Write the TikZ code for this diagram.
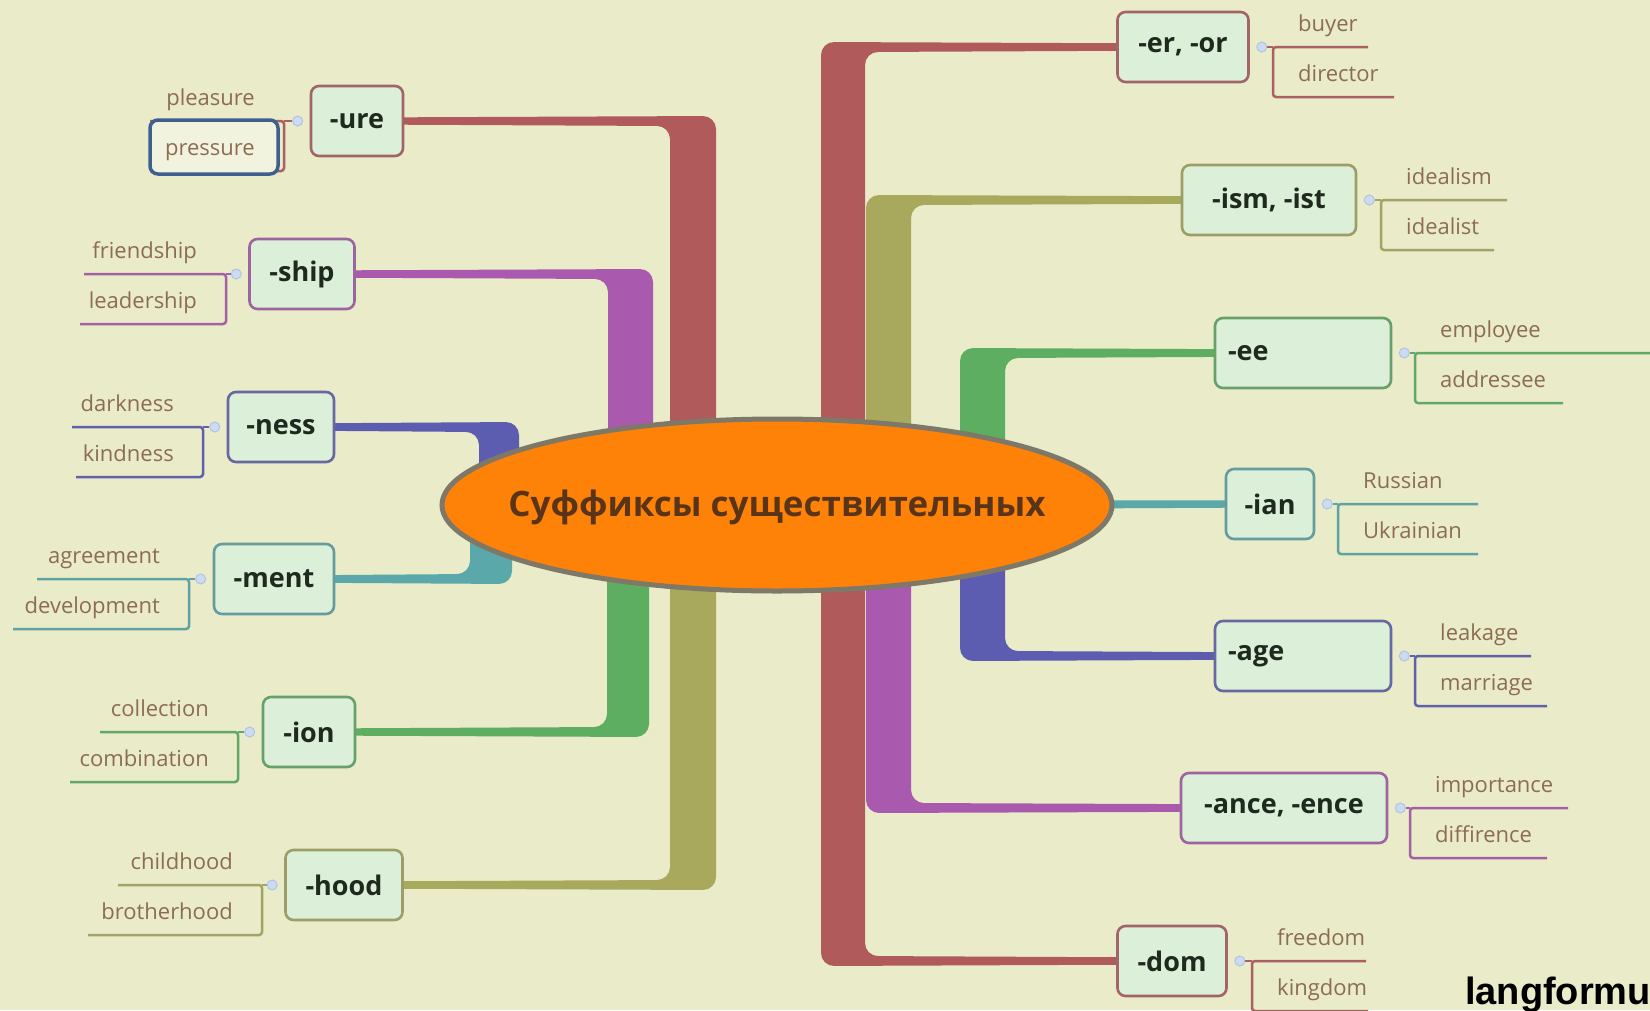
\documentclass[tikz,border=0pt]{standalone}
\usepackage{fontspec}
\setmainfont{Open Sans}
\newfontfamily\wmfont{Liberation Sans}
\usetikzlibrary{shapes.geometric,calc}
\pgfdeclarelayer{background}
\pgfsetlayers{background,main}

\definecolor{bgc}{HTML}{E9EBC9}
\definecolor{cRed}{HTML}{B05A5C}
\definecolor{cPur}{HTML}{A95AAE}
\definecolor{cBlu}{HTML}{5C5CB0}
\definecolor{cTea}{HTML}{5BA8AA}
\definecolor{cGrn}{HTML}{5EAE62}
\definecolor{cOli}{HTML}{A9A95E}
\definecolor{boxfill}{HTML}{DCEFD9}
\definecolor{boxtext}{HTML}{1E2A1E}
\definecolor{wordc}{HTML}{8C6D52}
\definecolor{knobf}{HTML}{CCDBF0}
\definecolor{knobd}{HTML}{AFC4E6}
\definecolor{hubfill}{HTML}{FF8208}
\definecolor{hubdraw}{HTML}{7D7868}
\definecolor{hubtext}{HTML}{5A3418}
\definecolor{selc}{HTML}{3F5F8F}

\tikzset{
  sbox/.style={draw=#1!70!gray, fill=boxfill, rounded corners=8pt, line width=2.6pt,
    minimum height=70pt, font=\bfseries\fontsize{27}{30}\selectfont, text=boxtext},
  word/.style={font=\fontsize{22}{24}\selectfont, text=wordc, inner sep=0pt},
  knob/.style={circle, fill=knobf, draw=knobd, line width=1pt, minimum size=10pt, inner sep=0pt},
  brk/.style={#1!85!gray, line width=2.5pt, rounded corners=3pt},
}

% branch: color, node, y0, x inner, x outer, y end, sign
\newcommand\branchshape[7]{%
  \fill[#1, rounded corners=13pt] ($(#2.center)+(0,{-#7*3.5})$) -- (#5,{#3-#7*5}) -- (#5,#6)
    -- (#4,#6) -- (#4,{#3+#7*5}) -- ($(#2.center)+(0,{#7*3.5})$) -- cycle;}

% left sub items: name, color, y0, V, x1, x2, word1, word2
\newcommand\lsub[8]{%
  \node[knob] (#1k) at ($(#1.west)+(-12,0)$) {};
  \draw[brk=#2] (#1k.west) -- (#4,#3);
  \draw[brk=#2] (#5,#3) -- (#4,#3) -- (#4,{#3+50}) -- (#6,{#3+50});
  \node[word, anchor=base east] (#1a) at ({#4-29},{#3-16}) {#7};
  \node[word, anchor=base east] (#1b) at ({#4-29},{#3+34}) {#8};}
% right sub items
\newcommand\rsub[8]{%
  \node[knob] (#1k) at ($(#1.east)+(12,0)$) {};
  \draw[brk=#2] (#1k.east) -- (#4,#3);
  \draw[brk=#2] (#5,#3) -- (#4,#3) -- (#4,{#3+50}) -- (#6,{#3+50});
  \node[word, anchor=base west] (#1a) at ({#4+25},{#3-16}) {#7};
  \node[word, anchor=base west] (#1b) at ({#4+25},{#3+34}) {#8};}

\begin{document}
\begin{tikzpicture}[x=1pt,y=-1pt]
\useasboundingbox (0,0) rectangle (1650,1010);
\clip (0,0) rectangle (1650,1010);

% central
\node[ellipse, minimum width=670pt, minimum height=172pt, fill=hubfill, draw=hubdraw, line width=5pt, inner sep=0pt] (hub) at (777,505) {};
\node[font=\bfseries\fontsize{35}{38}\selectfont, text=hubtext] (hubt) at (777,507) {Суффиксы существительных};

% suffix boxes
\node[sbox=cRed, minimum width=92pt] (ure) at (357,121) {-ure};
\node[sbox=cPur, minimum width=105pt] (ship) at (302,274) {-ship};
\node[sbox=cBlu, minimum width=106pt] (ness) at (281,427) {-ness};
\node[sbox=cTea, minimum width=120pt] (ment) at (274,579) {-ment};
\node[sbox=cGrn, minimum width=92pt] (ion) at (309,732) {-ion};
\node[sbox=cOli, minimum width=117pt] (hood) at (344,885) {-hood};
\node[sbox=cRed, minimum width=131pt] (er) at (1183,47) {-er, -or};
\node[sbox=cOli, minimum width=174pt] (ism) at (1269,200) {-ism, -ist};
\node[sbox=cGrn, text width=150pt, align=left, inner xsep=13pt] (ee) at (1303,353) {-ee};
\node[sbox=cTea, minimum width=88pt] (ian) at (1270,504) {-ian};
\node[sbox=cBlu, text width=150pt, align=left, inner xsep=13pt] (age) at (1303,656) {-age};
\node[sbox=cPur, minimum width=206pt] (ance) at (1284,808) {-ance, -ence};
\node[sbox=cRed, minimum width=109pt] (dom) at (1172,961) {-dom};

\begin{pgfonlayer}{background}
\fill[bgc] (0,0) rectangle (1650,1010);
\branchshape{cRed}{ure}{121}{670}{716}{505}{1}
\branchshape{cPur}{ship}{274}{608}{653}{505}{1}
\branchshape{cBlu}{ness}{427}{479}{519}{505}{1}
\branchshape{cTea}{ment}{579}{470}{512}{505}{-1}
\branchshape{cGrn}{ion}{732}{607}{649}{505}{-1}
\branchshape{cOli}{hood}{885}{670}{716}{505}{-1}
\branchshape{cRed}{er}{47}{865}{821}{505}{1}
\branchshape{cOli}{ism}{200}{911}{866}{505}{1}
\branchshape{cGrn}{ee}{353}{1005}{960}{505}{1}
\branchshape{cBlu}{age}{656}{1005}{960}{505}{-1}
\branchshape{cPur}{ance}{808}{911}{866}{505}{-1}
\branchshape{cRed}{dom}{961}{865}{821}{505}{-1}
\fill[cTea] ($(hub.center)+(0,-5)$) -- ($(ian.center)+(0,-3.5)$) -- ($(ian.center)+(0,3.5)$) -- ($(hub.center)+(0,5)$) -- cycle;
\end{pgfonlayer}

% sub items
\lsub{ure}{cRed}{121}{284}{150}{150}{pleasure}{}
\lsub{ship}{cPur}{274}{226}{84}{80}{friendship}{leadership}
\lsub{ness}{cBlu}{427}{203}{72}{76}{darkness}{kindness}
\lsub{ment}{cTea}{579}{189}{37}{13}{agreement}{development}
\lsub{ion}{cGrn}{732}{238}{100}{70}{collection}{combination}
\lsub{hood}{cOli}{885}{262}{118}{88}{childhood}{brotherhood}
\rsub{er}{cRed}{47}{1273}{1368}{1394}{buyer}{director}
\rsub{ism}{cOli}{200}{1381}{1507}{1494}{idealism}{idealist}
\rsub{ee}{cGrn}{353}{1415}{1650}{1563}{employee}{addressee}
\rsub{ian}{cTea}{504}{1338}{1478}{1478}{Russian}{Ukrainian}
\rsub{age}{cBlu}{656}{1415}{1531}{1547}{leakage}{marriage}
\rsub{ance}{cPur}{808}{1410}{1568}{1547}{importance}{diffirence}
\rsub{dom}{cRed}{961}{1252}{1366}{1368}{freedom}{kingdom}

% selected item
\node[draw=selc, fill=bgc!60!white, line width=3.5pt, rounded corners=8pt, minimum width=128pt, minimum height=54pt, inner sep=0pt] (sel) at (214,147) {};
\node[word, anchor=base east] (press) at (255,155) {pressure};

% watermark
\node[font=\wmfont\bfseries\fontsize{38}{42}\selectfont, anchor=base west, inner sep=0pt] (wm) at (1465,1004) {langformu};
\end{tikzpicture}
\end{document}
